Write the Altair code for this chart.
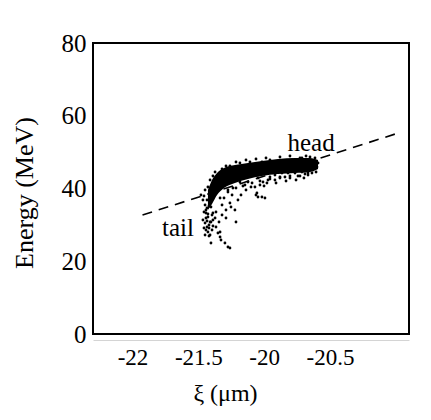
import altair as alt
import pandas as pd

# ---- data ----
# dense core of the bunch (upper / lower edge of the solid band)
core_xi = [-21.427, -21.396, -21.358, -21.305, -21.222, -21.123, -21.017, -20.895, -20.766, -20.652, -20.591]
core_top = [39.59, 42.34, 44.26, 45.64, 46.46, 47.01, 47.56, 48.11, 48.38, 48.38, 47.83]
core_bot = [34.09, 35.74, 38.21, 40.14, 41.51, 42.61, 43.44, 43.99, 44.26, 44.54, 45.36]

# individual particles around the core
pts_xi = [
    -21.480, -21.449, -21.442, -21.427, -21.411, -21.404, -21.351, -21.335, -21.328, -21.298,
    -21.275, -21.260, -21.335, -21.366, -21.214, -21.252, -21.222, -21.260, -21.290, -21.199,
    -21.176, -21.100, -21.062, -21.047, -21.404, -21.389, -21.427, -21.373, -21.411, -21.442,
    -21.434, -21.404, -21.373, -21.351, -21.328, -21.427, -21.449, -21.434, -21.396, -21.419,
    -21.449, -21.389, -21.366, -21.320, -21.305,
    -21.047, -21.009, -20.979, -21.032, -20.956, -20.918, -20.865, -20.819, -20.766, -20.713,
    -20.667, -20.629, -20.599, -20.591, -20.614, -20.652, -20.713, -20.789, -20.865, -20.941,
    -21.017, -21.055, -21.017, -20.994, -21.070, -20.971, -20.842, -20.743, -20.690, -20.637,
    -21.320, -21.260, -21.184, -21.108, -21.017, -20.956, -20.728,
    -21.146, -21.184, -21.123, -21.214, -21.275, -21.244, -21.335, -20.918, -20.804, -20.880,
    -21.275, -21.237, -21.161, -21.092, -21.032, -20.956, -20.880, -20.804, -20.728, -20.667,
    -20.606, -21.138, -21.001, -20.910, -20.834, -20.758, -20.698,
    -21.373, -21.290, -21.214, -21.138, -21.062, -20.986, -20.880, -20.804, -20.682,
    -21.465, -21.457, -21.465, -21.457, -21.419, -21.389, -21.343, -21.320, -21.290, -21.411,
    -21.389,
    -21.442, -21.419, -21.404, -21.434, -21.396, -21.449, -21.427, -21.411, -21.457, -21.442,
    -21.419, -21.396, -21.434, -21.411,
]
pts_e = [
    38.21, 30.51, 28.59, 28.04, 27.22, 25.02, 27.77, 26.67, 25.84, 25.02,
    23.92, 23.64, 28.04, 29.42, 30.79, 34.91, 34.09, 36.01, 34.09, 36.84,
    38.21, 40.41, 38.21, 37.66, 34.91, 33.26, 32.16, 31.89, 30.79, 34.09,
    36.84, 38.76, 42.34, 43.71, 44.54, 40.41, 39.59, 29.42, 28.59, 29.97,
    35.46, 31.34, 33.54, 35.46, 37.39,
    42.89, 41.79, 41.51, 40.96, 43.16, 43.71, 44.26, 44.26, 44.26, 44.54,
    44.26, 45.09, 45.91, 47.01, 48.38, 48.66, 48.38, 47.83, 47.28, 47.01,
    46.46, 38.76, 37.66, 37.39, 40.41, 42.34, 43.16, 43.44, 43.99, 44.26,
    45.36, 46.18, 47.01, 47.28, 47.28, 47.83, 48.38,
    40.96, 41.79, 41.79, 40.14, 39.04, 38.21, 37.39, 42.34, 43.44, 42.89,
    39.59, 40.14, 40.69, 41.51, 42.06, 42.61, 43.16, 42.89, 43.44, 43.71,
    44.54, 39.59, 40.69, 41.51, 42.06, 42.34, 42.89,
    44.54, 46.18, 47.28, 47.83, 48.11, 48.38, 48.66, 48.93, 48.93,
    36.84, 33.54, 31.34, 29.14, 26.94, 29.69, 30.79, 32.71, 31.89, 42.34,
    43.44,
    31.89, 29.14, 30.79, 34.64, 32.71, 27.22, 32.99, 36.29, 37.94, 33.26,
    35.19, 37.11, 31.06, 39.04,
]

# dashed guide line (end points)
line_xi = [-21.924, -19.96]
line_e = [32.7, 55.5]

# annotations
ann_text = ["head", "tail"]
ann_xi = [-20.644, -21.655]
ann_e = [52.5, 29.1]

# axis ticks (labels as printed in the figure)
x_ticks = [-22, -21.5, -21, -20.5]
x_tick_labels = ["-22", "-21.5", "-20", "-20.5"]
y_ticks = [0, 20, 40, 60, 80]

# ---- build ----
core_df = pd.DataFrame({"xi": core_xi, "top": core_top, "bot": core_bot})
pts_df = pd.DataFrame({"xi": pts_xi, "E": pts_e})
line_df = pd.DataFrame({"xi": line_xi, "E": line_e})
ann_df = pd.DataFrame({"text": ann_text, "xi": ann_xi, "E": ann_e})

label_expr = " : ".join(
    f"datum.value == {v} ? '{l}'" for v, l in zip(x_ticks, x_tick_labels)
) + " : datum.label"

FONT = "Liberation Serif"

x_scale = alt.Scale(domain=[-22.3, -19.9], nice=False, zero=False)
y_scale = alt.Scale(domain=[0, 80], nice=False)

x_axis = alt.Axis(
    values=x_ticks, labelExpr=label_expr, ticks=False, grid=False,
    domain=True, domainColor="#d4d4d4", domainWidth=1, offset=6,
    labelPadding=6, labelFont=FONT, labelFontSize=23, labelColor="black",
    title="ξ (μm)", titleFont=FONT, titleFontSize=24, titleFontWeight="normal",
    titleColor="black", titleX=132, titleY=60, titleAlign="center",
    titleBaseline="alphabetic", labelFlush=False,
)
y_axis = alt.Axis(
    values=y_ticks, format="d", ticks=False, grid=False, domain=False,
    labelPadding=7, labelFont=FONT, labelFontSize=25, labelColor="black",
    title="Energy (MeV)", titleFont=FONT, titleFontSize=26, titleFontWeight="normal",
    titleColor="black", titleX=-61, titleY=149.5, titleAlign="center",
    titleBaseline="alphabetic", titleAngle=-90,
)

x_enc = alt.X("xi:Q", scale=x_scale, axis=x_axis)

core = alt.Chart(core_df).mark_area(color="black", opacity=1, interpolate="monotone").encode(
    x=x_enc,
    y=alt.Y("top:Q", scale=y_scale, axis=y_axis),
    y2="bot:Q",
)

pts = alt.Chart(pts_df).mark_circle(color="black", size=8, opacity=1).encode(
    x=alt.X("xi:Q", scale=x_scale),
    y=alt.Y("E:Q", scale=y_scale),
)

guide = alt.Chart(line_df).mark_line(color="black", strokeWidth=1.6, strokeDash=[10, 7]).encode(
    x=alt.X("xi:Q", scale=x_scale),
    y=alt.Y("E:Q", scale=y_scale),
)

ann = alt.Chart(ann_df).mark_text(font=FONT, fontSize=25, color="black", align="center", baseline="middle").encode(
    x=alt.X("xi:Q", scale=x_scale),
    y=alt.Y("E:Q", scale=y_scale),
    text="text:N",
)

chart = alt.layer(guide, core, pts, ann).properties(
    width=316, height=291,
    autosize=alt.AutoSizeParams(type="none"),
    padding={"left": 93, "top": 43, "right": 22, "bottom": 86},
    background="white",
).configure_view(stroke="black", strokeWidth=2)

chart.save("out.html", embed_options={"renderer": "svg", "actions": False})
